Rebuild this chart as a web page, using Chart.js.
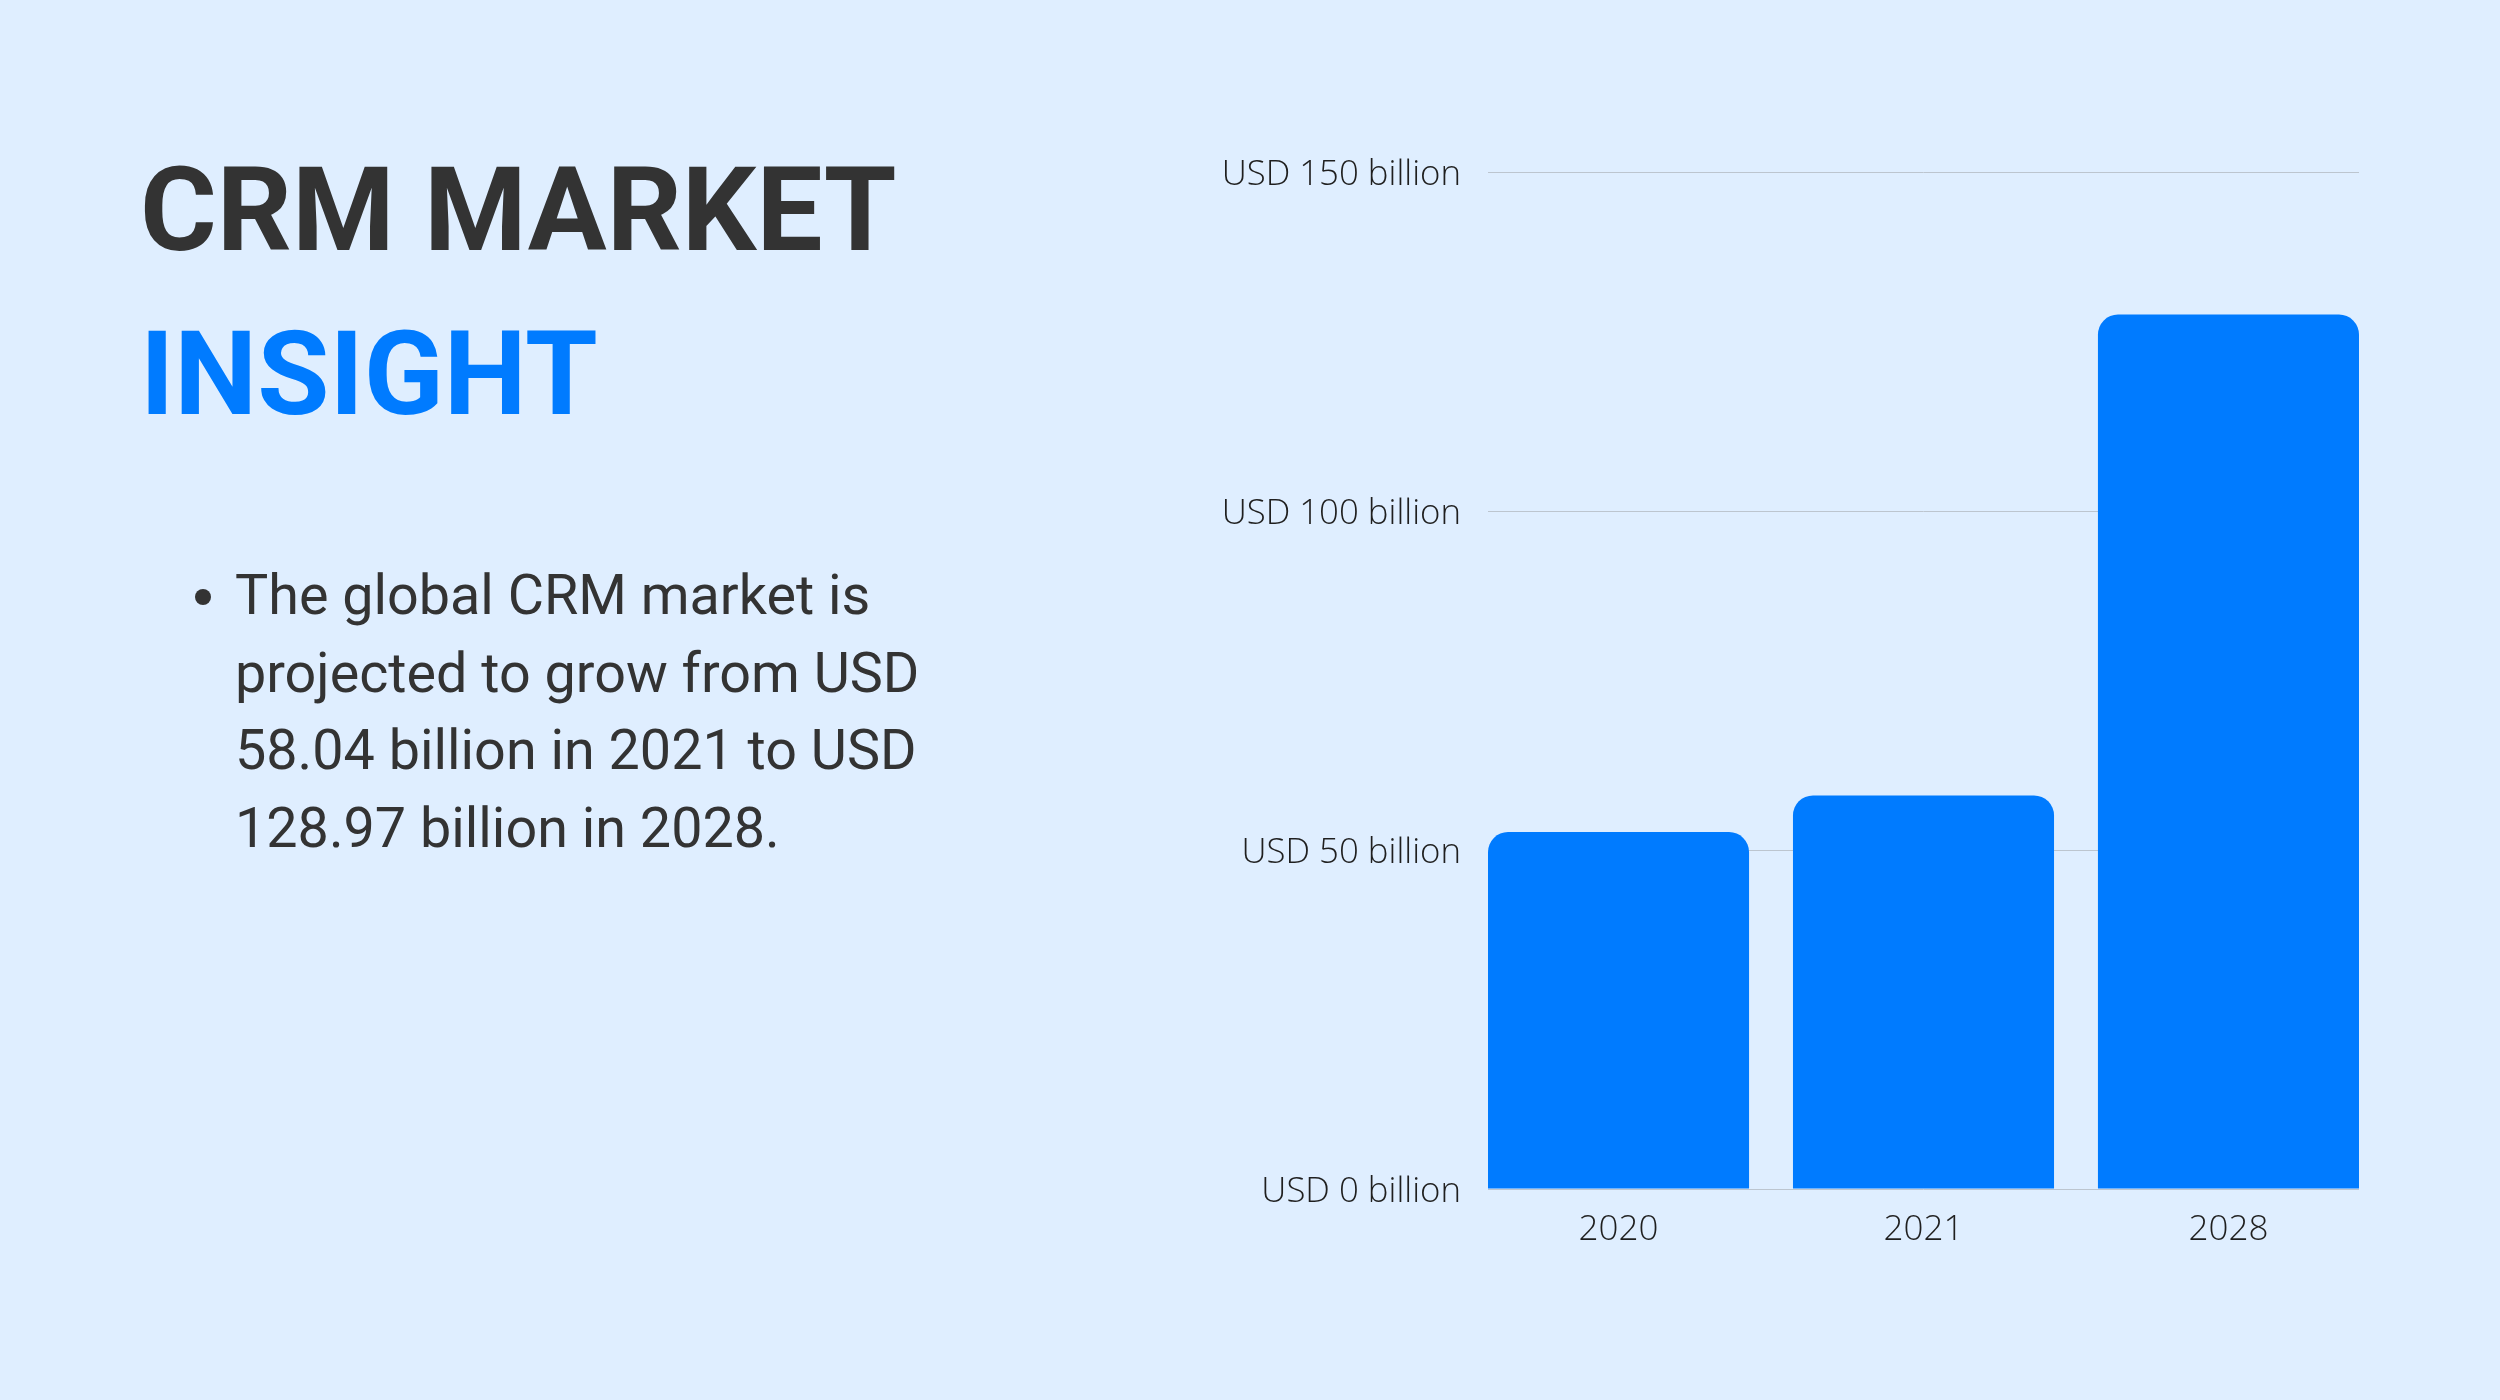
<!DOCTYPE html>
<html>
<head>
<meta charset="utf-8">
<script src="https://cdn.jsdelivr.net/npm/chart.js@4.4.1/dist/chart.umd.min.js"></script>
<style>
  html, body { margin: 0; padding: 0; }
  body {
    width: 2500px; height: 1400px; overflow: hidden;
    background: #dfeeff; position: relative;
    font-family: Roboto, "Noto Sans", sans-serif;
  }
  .title {
    position: absolute; left: 140px; margin: 0;
    font-size: 117.4px; font-weight: 700; line-height: 118px;
    white-space: nowrap;
  }
  #t1 { top: 151px; color: #333333; }
  #t2 { top: 315px; color: #007bff; }
  #bullet {
    position: absolute; left: 235px; top: 557px; margin: 0;
    font-size: 55.7px; line-height: 77.7px; color: #333333;
    white-space: nowrap;
  }
  #dot {
    position: absolute; left: 195px; top: 589px;
    width: 16px; height: 16px; border-radius: 50%; background: #333333;
  }
  #chartBox {
    position: absolute; left: 1100px; top: 100px;
    width: 1300px; height: 1169px;
  }
</style>
</head>
<body>
<h1 class="title" id="t1">CRM MARKET</h1>
<h1 class="title" id="t2">INSIGHT</h1>
<div id="dot"></div>
<p id="bullet">The global CRM market is<br>projected to grow from USD<br>58.04 billion in 2021 to USD<br>128.97 billion in 2028.</p>
<div id="chartBox"><canvas id="chart"></canvas></div>

<script>
// values in USD billion
const years = ["2020", "2021", "2028"];
const marketSize = [52.64, 58.04, 128.97];
const yTicks = [0, 50, 100, 150];

const BLUE = "#007bff";
const TEXT = "#1f1f1f";

const points = years.map((y, i) => ({ x: i, y: marketSize[i] }));

new Chart(document.getElementById("chart"), {
  type: "bar",
  data: {
    datasets: [{
      label: "CRM market",
      data: points,
      backgroundColor: BLUE,
      borderRadius: 20,
      borderSkipped: "start",
      categoryPercentage: 1,
      barPercentage: 0.856
    }]
  },
  options: {
    responsive: true,
    maintainAspectRatio: false,
    animation: false,
    layout: { padding: { top: 72, right: 41, bottom: 0, left: 0 } },
    plugins: { legend: { display: false }, tooltip: { enabled: false } },
    scales: {
      x: {
        type: "linear",
        min: -0.428,
        max: 2.428,
        offset: false,
        grid: { display: false },
        border: { display: false },
        afterBuildTicks: s => { s.ticks = years.map((_, i) => ({ value: i })); },
        afterFit: s => { s.height = 80; },
        ticks: {
          autoSkip: false,
          maxRotation: 0,
          padding: 12,
          color: TEXT,
          font: { family: "'Open Sans'", size: 35, weight: 300 },
          callback: v => years[v]
        }
      },
      y: {
        min: 0,
        max: 150,
        grid: { color: "#bcc5cf", lineWidth: 1, drawTicks: false },
        border: { display: false },
        afterBuildTicks: s => { s.ticks = yTicks.map(v => ({ value: v })); },
        afterFit: s => { s.width = 388; },
        ticks: {
          padding: 27,
          labelOffset: 3,
          color: TEXT,
          font: { family: "'Open Sans'", size: 34.8, weight: 300 },
          callback: v => "USD " + v + " billion"
        }
      }
    }
  }
});
</script>
</body>
</html>
